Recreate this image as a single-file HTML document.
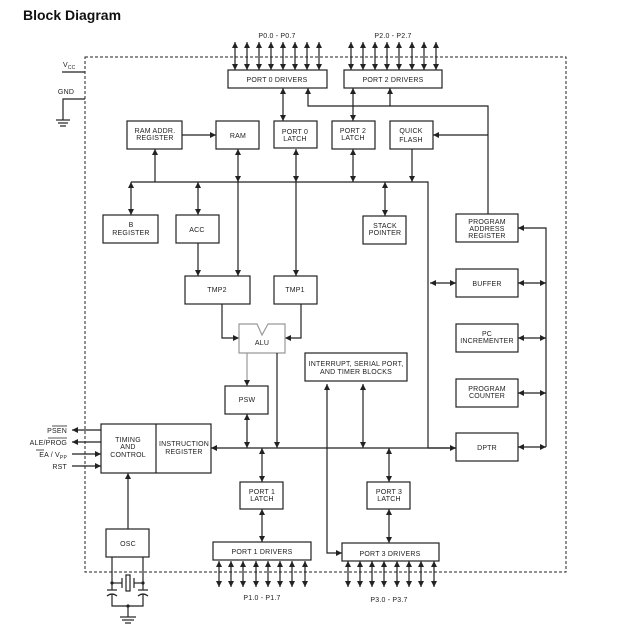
<!DOCTYPE html>
<html><head><meta charset="utf-8"><style>
body{margin:0;background:#fff;}
svg{display:block;font-family:"Liberation Sans",Arial,sans-serif;}
text{font-size:7px;fill:#222;text-anchor:middle;letter-spacing:0.2px;}
.b{fill:#fff;stroke:#222;stroke-width:1.2}
.l{stroke:#222;stroke-width:1.2;fill:none}
</style></head><body>
<svg width="625" height="641" viewBox="0 0 625 641">
<defs>
<marker id="a" viewBox="0 0 10 10" refX="10" refY="5" markerWidth="6" markerHeight="6" orient="auto-start-reverse" markerUnits="userSpaceOnUse"><path d="M0,0L10,5L0,10z" fill="#222"/></marker>
</defs>
<text x="23" y="20" style="font-size:14px;font-weight:bold;text-anchor:start;fill:#111;letter-spacing:0">Block Diagram</text>
<rect x="85" y="57" width="481" height="515" fill="none" stroke="#222" stroke-width="1" stroke-dasharray="3,2"/>
<text x="63" y="67" style="text-anchor:start">V<tspan style="font-size:5px" dy="2">CC</tspan></text>
<line class="l" x1="62" y1="72" x2="85" y2="72"/>
<text x="66" y="94">GND</text>
<polyline class="l" points="85,99 63,99 63,120"/>
<line class="l" x1="56" y1="120" x2="70" y2="120"/><line class="l" x1="58" y1="123" x2="68" y2="123"/><line class="l" x1="60" y1="126" x2="66" y2="126"/>
<rect class="b" x="228" y="70" width="99" height="18"/><text x="277" y="82">PORT 0 DRIVERS</text>
<rect class="b" x="344" y="70" width="98" height="18"/><text x="393" y="82">PORT 2 DRIVERS</text>
<text x="277" y="38">P0.0 - P0.7</text><text x="393" y="38">P2.0 - P2.7</text>
<g class="l" marker-start="url(#a)" marker-end="url(#a)">
<line x1="235" y1="42" x2="235" y2="70"/><line x1="247" y1="42" x2="247" y2="70"/><line x1="259" y1="42" x2="259" y2="70"/><line x1="271" y1="42" x2="271" y2="70"/><line x1="283" y1="42" x2="283" y2="70"/><line x1="295" y1="42" x2="295" y2="70"/><line x1="307" y1="42" x2="307" y2="70"/><line x1="319" y1="42" x2="319" y2="70"/>
<line x1="351" y1="42" x2="351" y2="70"/><line x1="363" y1="42" x2="363" y2="70"/><line x1="375" y1="42" x2="375" y2="70"/><line x1="387" y1="42" x2="387" y2="70"/><line x1="399" y1="42" x2="399" y2="70"/><line x1="412" y1="42" x2="412" y2="70"/><line x1="424" y1="42" x2="424" y2="70"/><line x1="436" y1="42" x2="436" y2="70"/>
<line x1="283" y1="88" x2="283" y2="121"/><line x1="353" y1="88" x2="353" y2="121"/>
<line x1="296" y1="149" x2="296" y2="182"/><line x1="353" y1="149" x2="353" y2="182"/><line x1="238" y1="149" x2="238" y2="182"/>
<line x1="131" y1="182" x2="131" y2="215"/><line x1="198" y1="182" x2="198" y2="215"/><line x1="385" y1="182" x2="385" y2="216"/>
<line x1="247" y1="414" x2="247" y2="448"/><line x1="363" y1="384" x2="363" y2="448"/>
<line x1="262" y1="448" x2="262" y2="482"/><line x1="389" y1="448" x2="389" y2="482"/>
<line x1="262" y1="509" x2="262" y2="542"/><line x1="389" y1="509" x2="389" y2="543"/>
<line x1="430" y1="283" x2="456" y2="283"/>
<line x1="518" y1="283" x2="546" y2="283"/><line x1="518" y1="338" x2="546" y2="338"/><line x1="518" y1="393" x2="546" y2="393"/><line x1="518" y1="447" x2="546" y2="447"/>
<line x1="219" y1="561" x2="219" y2="587"/><line x1="231" y1="561" x2="231" y2="587"/><line x1="243" y1="561" x2="243" y2="587"/><line x1="256" y1="561" x2="256" y2="587"/><line x1="268" y1="561" x2="268" y2="587"/><line x1="280" y1="561" x2="280" y2="587"/><line x1="292" y1="561" x2="292" y2="587"/><line x1="305" y1="561" x2="305" y2="587"/>
<line x1="348" y1="561" x2="348" y2="587"/><line x1="360" y1="561" x2="360" y2="587"/><line x1="372" y1="561" x2="372" y2="587"/><line x1="384" y1="561" x2="384" y2="587"/><line x1="397" y1="561" x2="397" y2="587"/><line x1="409" y1="561" x2="409" y2="587"/><line x1="421" y1="561" x2="421" y2="587"/><line x1="434" y1="561" x2="434" y2="587"/>
</g>
<text x="262" y="600">P1.0 - P1.7</text><text x="389" y="602">P3.0 - P3.7</text>
<polyline class="l" points="488,215 488,106 308,106 308,88" marker-end="url(#a)"/>
<line class="l" x1="390" y1="106" x2="390" y2="88" marker-end="url(#a)"/>
<line class="l" x1="488" y1="135" x2="433" y2="135" marker-end="url(#a)"/>
<line class="l" x1="182" y1="135" x2="216" y2="135" marker-end="url(#a)"/>
<rect class="b" x="127" y="121" width="55" height="28"/><text x="155" y="133">RAM ADDR.</text><text x="155" y="140">REGISTER</text>
<rect class="b" x="216" y="121" width="43" height="28"/><text x="238" y="138">RAM</text>
<rect class="b" x="274" y="121" width="43" height="27"/><text x="295" y="134">PORT 0</text><text x="295" y="141">LATCH</text>
<rect class="b" x="332" y="121" width="43" height="28"/><text x="353" y="133">PORT 2</text><text x="353" y="140">LATCH</text>
<rect class="b" x="390" y="121" width="43" height="28"/><text x="411" y="133">QUICK</text><text x="411" y="142">FLASH</text>
<polyline class="l" points="131,182 428,182 428,448"/>
<line class="l" x1="155" y1="182" x2="155" y2="149" marker-end="url(#a)"/>
<line class="l" x1="412" y1="149" x2="412" y2="182" marker-end="url(#a)"/>
<line class="l" x1="238" y1="182" x2="238" y2="276" marker-end="url(#a)"/>
<line class="l" x1="296" y1="182" x2="296" y2="276" marker-end="url(#a)"/>
<line class="l" x1="198" y1="243" x2="198" y2="276" marker-end="url(#a)"/>
<rect class="b" x="103" y="215" width="55" height="28"/><text x="131" y="227">B</text><text x="131" y="235">REGISTER</text>
<rect class="b" x="176" y="215" width="43" height="28"/><text x="197" y="232">ACC</text>
<rect class="b" x="363" y="216" width="43" height="28"/><text x="385" y="228">STACK</text><text x="385" y="235">POINTER</text>
<rect class="b" x="185" y="276" width="65" height="28"/><text x="217" y="292">TMP2</text>
<rect class="b" x="274" y="276" width="43" height="28"/><text x="295" y="292">TMP1</text>
<polyline class="l" points="222,304 222,338 239,338" marker-end="url(#a)"/>
<polyline class="l" points="301,304 301,338 285,338" marker-end="url(#a)"/>
<path d="M239,324H257L262,335L268,324H285V353H239Z" fill="#fff" stroke="#999" stroke-width="1.2"/><text x="262" y="345">ALU</text>
<line x1="247" y1="353" x2="247" y2="386" stroke="#999" stroke-width="1.2" marker-end="url(#a)"/>
<line class="l" x1="277" y1="353" x2="277" y2="448" marker-end="url(#a)"/>
<rect class="b" x="225" y="386" width="43" height="28"/><text x="247" y="402">PSW</text>
<rect class="b" x="305" y="353" width="102" height="28"/><text x="356" y="366">INTERRUPT, SERIAL PORT,</text><text x="356" y="374">AND TIMER BLOCKS</text>
<polyline class="l" points="342,553 327,553 327,384" marker-start="url(#a)" marker-end="url(#a)"/>
<rect class="b" x="101" y="424" width="110" height="49"/><line class="l" x1="156" y1="424" x2="156" y2="473"/>
<text x="128" y="442">TIMING</text><text x="128" y="449">AND</text><text x="128" y="457">CONTROL</text>
<text x="184" y="446">INSTRUCTION</text><text x="184" y="454">REGISTER</text>
<line class="l" x1="456" y1="448" x2="211" y2="448" marker-end="url(#a)"/>
<line class="l" x1="428" y1="448" x2="456" y2="448" marker-end="url(#a)"/>
<line class="l" x1="101" y1="430" x2="72" y2="430" marker-end="url(#a)"/>
<line class="l" x1="101" y1="442" x2="72" y2="442" marker-end="url(#a)"/>
<line class="l" x1="72" y1="454" x2="101" y2="454" marker-end="url(#a)"/>
<line class="l" x1="72" y1="466" x2="101" y2="466" marker-end="url(#a)"/>
<text x="67" y="433" style="text-anchor:end">PSEN</text><line x1="52" y1="426" x2="67" y2="426" stroke="#222" stroke-width="0.8"/>
<text x="67" y="445" style="text-anchor:end">ALE/PROG</text><line x1="48" y1="438" x2="67" y2="438" stroke="#222" stroke-width="0.8"/>
<text x="67" y="457" style="text-anchor:end">EA / V<tspan style="font-size:5px" dy="2">PP</tspan></text><line x1="36" y1="450" x2="44" y2="450" stroke="#222" stroke-width="0.8"/>
<text x="67" y="469" style="text-anchor:end">RST</text>
<rect class="b" x="240" y="482" width="43" height="27"/><text x="262" y="494">PORT 1</text><text x="262" y="501">LATCH</text>
<rect class="b" x="367" y="482" width="43" height="27"/><text x="389" y="494">PORT 3</text><text x="389" y="501">LATCH</text>
<rect class="b" x="213" y="542" width="98" height="18"/><text x="262" y="554">PORT 1 DRIVERS</text>
<rect class="b" x="342" y="543" width="97" height="18"/><text x="390" y="556">PORT 3 DRIVERS</text>
<rect class="b" x="456" y="214" width="62" height="28"/><text x="487" y="224">PROGRAM</text><text x="487" y="231">ADDRESS</text><text x="487" y="238">REGISTER</text>
<rect class="b" x="456" y="269" width="62" height="28"/><text x="487" y="286">BUFFER</text>
<rect class="b" x="456" y="324" width="62" height="28"/><text x="487" y="336">PC</text><text x="487" y="343">INCREMENTER</text>
<rect class="b" x="456" y="379" width="62" height="28"/><text x="487" y="391">PROGRAM</text><text x="487" y="398">COUNTER</text>
<rect class="b" x="456" y="433" width="62" height="28"/><text x="487" y="450">DPTR</text>
<polyline class="l" points="546,447 546,228 518,228" marker-end="url(#a)"/>
<rect class="b" x="106" y="529" width="43" height="28"/><text x="128" y="546">OSC</text>
<line class="l" x1="128" y1="529" x2="128" y2="473" marker-end="url(#a)"/>
<g class="l">
<line x1="112" y1="557" x2="112" y2="590"/><line x1="143" y1="557" x2="143" y2="590"/>
<line x1="112" y1="583" x2="122" y2="583"/><line x1="134" y1="583" x2="143" y2="583"/>
<line x1="122" y1="578" x2="122" y2="588"/><line x1="134" y1="578" x2="134" y2="588"/>
<rect x="126" y="575" width="4" height="16"/>
<line x1="107" y1="590" x2="117" y2="590"/><line x1="138" y1="590" x2="148" y2="590"/>
<path d="M107,596Q112,592 117,596M138,596Q143,592 148,596"/>
<polyline points="112,594 112,606 143,606 143,594"/>
<line x1="128" y1="606" x2="128" y2="617"/>
<line x1="120" y1="617" x2="136" y2="617"/><line x1="122" y1="620" x2="134" y2="620"/><line x1="125" y1="623" x2="131" y2="623"/>
</g>
<circle cx="112" cy="583" r="1.6" fill="#222"/><circle cx="143" cy="583" r="1.6" fill="#222"/><circle cx="128" cy="606" r="1.6" fill="#222"/>
</svg>
</body></html>
